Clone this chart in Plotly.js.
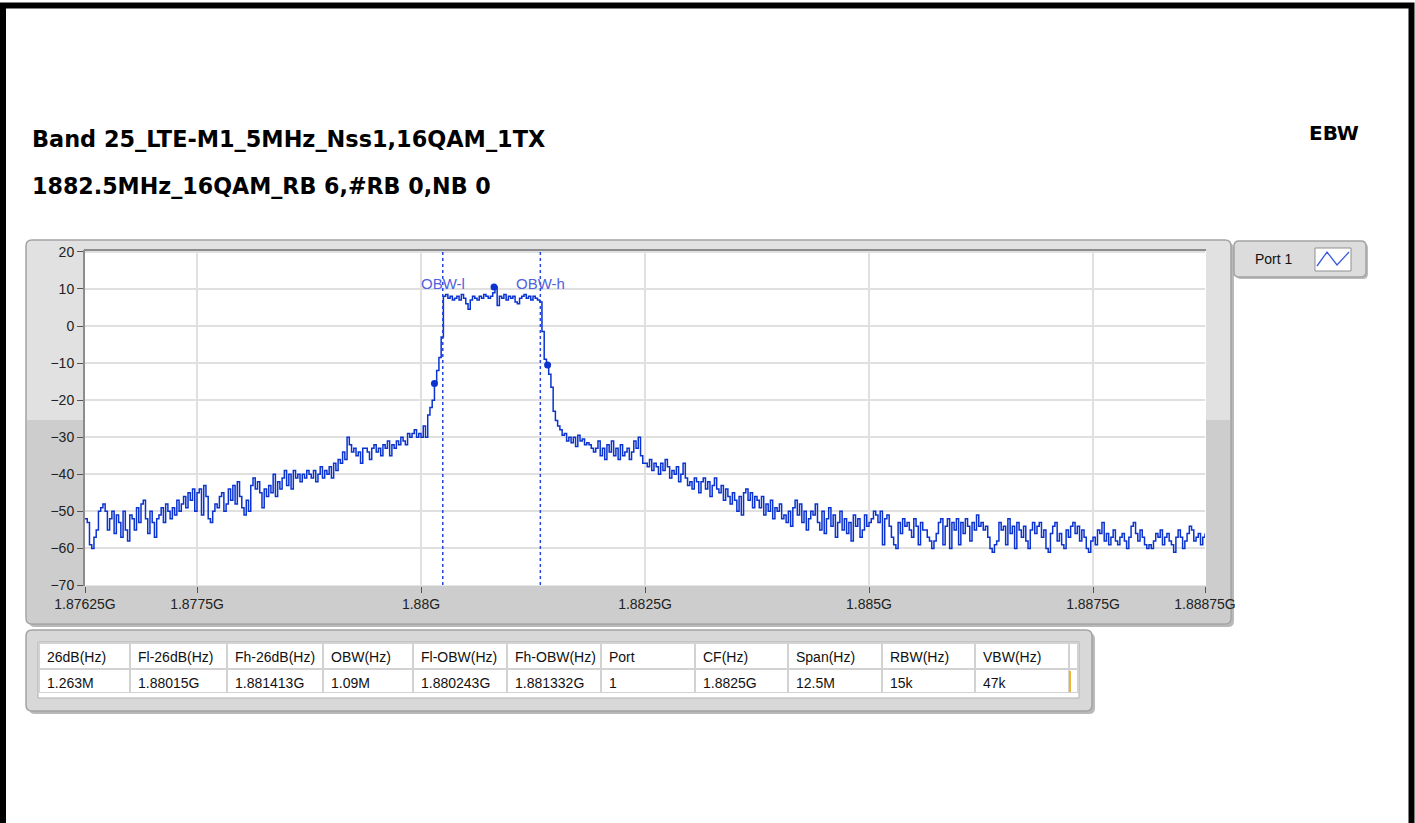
<!DOCTYPE html>
<html>
<head>
<meta charset="utf-8">
<script src="https://cdn.plot.ly/plotly-3.0.1.min.js"></script>
<style>
html,body{margin:0;padding:0;background:#ffffff;}
#chart{width:1415px;height:823px;}
</style>
</head>
<body>
<div id="chart"></div>
<script>
// ---------------- DATA ----------------
const titleLine1 = "Band 25_LTE-M1_5MHz_Nss1,16QAM_1TX";
const titleLine2 = "1882.5MHz_16QAM_RB 6,#RB 0,NB 0";
const panelLabel = "EBW";
const traceName = "Port 1";

// sweep: 1.87625 GHz .. 1.88875 GHz, 501 points (25 kHz step)
const startFreqGHz = 1.87625;
const stepFreqGHz = 0.000025;

// levels in dB
const lowerSkirt = [
 -52,-53,-59,-60,-57,-55,-50,-49,-48,-50,-55,-52,-50,-56,-51,-53,-57,-50,-55,-58,-51,-52,-55,-49,-53,
 -48,-47,-52,-56,-50,-53,-57,-52,-51,-49,-53,-48,-50,-52,-49,-51,-47,-50,-48,-46,-49,-45,-47,-44,-50,
 -45,-44,-51,-43,-46,-52,-53,-50,-48,-49,-46,-45,-50,-48,-44,-47,-43,-48,-42,-46,-49,-51,-47,-50,-43,
 -41,-44,-42,-45,-49,-44,-46,-43,-45,-40,-46,-42,-44,-41,-39,-43,-40,-44,-39,-41,-40,-42,-40,-41,-39,
 -40,-41,-39,-42,-40,-38,-41,-39,-40,-38,-41,-37,-39,-36,-37,-34,-36,-30,-32,-34,-33,-35,-34,-37,-33,
 -33,-34,-36,-33,-32,-34,-33,-35,-32,-33,-31,-35,-32,-33,-31,-32,-30,-31,-32,-29,-30,-29,-28,-30,-29
];
const lowerEdge = [-30,-27,-30,-24,-22,-20,-15.5,-12,-8.5,-3];
const inBand = [
 8,8.5,7.5,8,7,7.5,8,7,8.5,7.5,6,4.5,7,8,7.5,7,8,7.5,8.5,8,7.5,8,9,10.5,5.5,8,7.5,8.5,7,8,
 7.5,8,6.5,6,7.5,8,8.5,7.5,8,7,8,7.5,7,6.5
];
const upperEdge = [-1.5,-9,-10,-13,-16.5,-23,-25.5,-27,-28,-29.5,-29,-31,-30,-31.5,-30,-32.5,-29.5,-31,-30.5,-32,-31.5];
const upperSkirt = [
 -32,-33,-34,-33,-31,-35,-33,-36,-32,-34,-31,-35,-33,-36,-32,-35,-34,-33,-36,-34,-31,-33,-30,-35,-37,
 -37,-38,-36,-39,-37,-38,-40,-37,-39,-36,-38,-41,-39,-40,-38,-42,-40,-37,-41,-43,-42,-44,-41,-42,-45,
 -42,-41,-44,-42,-46,-43,-41,-44,-45,-43,-47,-44,-46,-48,-45,-47,-50,-46,-51,-45,-44,-47,-45,-49,-46,
 -47,-49,-46,-51,-48,-50,-47,-52,-49,-50,-48,-52,-51,-53,-50,-54,-49,-47,-51,-48,-53,-50,-55,-52,-50,
 -51,-48,-53,-55,-50,-56,-52,-49,-54,-51,-57,-53,-50,-55,-52,-56,-53,-58,-51,-54,-52,-57,-55,-51,-54,
 -53,-52,-50,-51,-53,-50,-59,-52,-51,-54,-57,-59,-60,-53,-56,-52,-54,-53,-55,-57,-52,-54,-59,-53,-55,
 -55,-57,-58,-60,-58,-56,-53,-52,-59,-54,-52,-60,-53,-55,-52,-59,-53,-56,-52,-54,-58,-53,-55,-51,-54,
 -53,-55,-54,-57,-60,-61,-59,-58,-53,-55,-54,-59,-52,-56,-54,-60,-53,-55,-57,-54,-58,-60,-55,-53,-56,
 -54,-53,-57,-55,-60,-61,-56,-54,-53,-58,-56,-59,-60,-55,-57,-54,-53,-56,-54,-58,-55,-57,-60,-61,-58,
 -57,-59,-55,-56,-53,-58,-56,-59,-57,-55,-58,-59,-57,-56,-58,-60,-57,-54,-53,-56,-58,-55,-57,-59,-60,
 -59,-60,-58,-56,-57,-55,-59,-57,-56,-58,-59,-61,-57,-55,-57,-60,-58,-56,-54,-55,-58,-57,-56,-59,-57,-56
];

// measurement markers (Fl-26dB, peak, Fh-26dB)
const markerFreqs = [1.88015, 1.880815, 1.881413];
const markerLevels = [-15.5, 10.5, -10.5];
// OBW cursor lines
const obwFreqs = [1.880243, 1.881332];
const obwLabels = ["OBW-l", "OBW-h"];

const xTickVals = [1.87625, 1.8775, 1.88, 1.8825, 1.885, 1.8875, 1.88875];
const xTickText = ["1.87625G", "1.8775G", "1.88G", "1.8825G", "1.885G", "1.8875G", "1.88875G"];
const yTickVals = [-70, -60, -50, -40, -30, -20, -10, 0, 10, 20];

const tableHeaders = ["26dB(Hz)", "Fl-26dB(Hz)", "Fh-26dB(Hz)", "OBW(Hz)", "Fl-OBW(Hz)", "Fh-OBW(Hz)", "Port", "CF(Hz)", "Span(Hz)", "RBW(Hz)", "VBW(Hz)", ""];
const tableValues = ["1.263M", "1.88015G", "1.881413G", "1.09M", "1.880243G", "1.881332G", "1", "1.8825G", "12.5M", "15k", "47k", ""];

// ---------------- BUILD ----------------
const W = 1415, H = 823;
const px = x => x / W;
const py = y => 1 - y / H;

const levels = lowerSkirt.concat(lowerEdge, inBand, upperEdge, upperSkirt);
const freqs = levels.map((_, i) => startFreqGHz + i * stepFreqGHz);

function rr(x0, y0, x1, y1, r) {
  const P = (x, y) => px(x).toFixed(6) + "," + py(y).toFixed(6);
  return "M" + P(x0 + r, y0) + " L" + P(x1 - r, y0) + " Q" + P(x1, y0) + " " + P(x1, y0 + r) +
    " L" + P(x1, y1 - r) + " Q" + P(x1, y1) + " " + P(x1 - r, y1) +
    " L" + P(x0 + r, y1) + " Q" + P(x0, y1) + " " + P(x0, y1 - r) +
    " L" + P(x0, y0 + r) + " Q" + P(x0, y0) + " " + P(x0 + r, y0) + " Z";
}
function bottomRounded(x0, y0, x1, y1, r) {
  const P = (x, y) => px(x).toFixed(6) + "," + py(y).toFixed(6);
  return "M" + P(x0, y0) + " L" + P(x1, y0) + " L" + P(x1, y1 - r) + " Q" + P(x1, y1) + " " + P(x1 - r, y1) +
    " L" + P(x0 + r, y1) + " Q" + P(x0, y1) + " " + P(x0, y1 - r) + " Z";
}
function poly(pts) {
  return pts.map((p, i) => (i ? "L" : "M") + px(p[0]).toFixed(6) + "," + py(p[1]).toFixed(6)).join(" ");
}

const uiFont = "Liberation Sans, Arial, sans-serif";
const boldFont = "DejaVu Sans, Open Sans, sans-serif";

const shapes = [
  // graph panel
  {type: "path", xref: "paper", yref: "paper", layer: "below", path: rr(29, 243, 1234, 627, 6), fillcolor: "#b9b9b9", line: {width: 0}},
  {type: "path", xref: "paper", yref: "paper", layer: "below", path: rr(26, 240, 1231, 624, 6), fillcolor: "#e1e1e1", line: {width: 0}},
  {type: "path", xref: "paper", yref: "paper", layer: "below", path: bottomRounded(27, 420, 1230, 623, 5), fillcolor: "#cdcdcd", line: {width: 0}},
  {type: "path", xref: "paper", yref: "paper", layer: "below", path: rr(26, 240, 1231, 624, 6), fillcolor: "rgba(0,0,0,0)", line: {color: "#a3a3a3", width: 1.5}},
  // plot area background
  {type: "rect", xref: "paper", yref: "paper", layer: "below", x0: px(85), x1: px(1206), y0: py(585.5), y1: py(250), fillcolor: "#ffffff", line: {width: 0}},
  // legend box
  {type: "path", xref: "paper", yref: "paper", layer: "below", path: rr(1236, 243, 1368, 279, 5), fillcolor: "#bdbdbd", line: {width: 0}},
  {type: "path", xref: "paper", yref: "paper", layer: "below", path: rr(1234, 241, 1366, 277, 5), fillcolor: "#dcdcdc", line: {color: "#a3a3a3", width: 1.5}},
  {type: "rect", xref: "paper", yref: "paper", layer: "below", x0: px(1315), x1: px(1351), y0: py(271), y1: py(248), fillcolor: "#ffffff", line: {color: "#8f8f8f", width: 1}},
  {type: "path", xref: "paper", yref: "paper", layer: "above", path: poly([[1317, 266], [1327, 252], [1337, 265], [1349, 252]]), line: {color: "#3a5be0", width: 1.3}},
  // table panel
  {type: "path", xref: "paper", yref: "paper", layer: "below", path: rr(29, 633, 1095, 714, 6), fillcolor: "#b9b9b9", line: {width: 0}},
  {type: "path", xref: "paper", yref: "paper", layer: "below", path: rr(26, 630, 1092, 711, 6), fillcolor: "#d8d8d8", line: {color: "#a3a3a3", width: 1.5}},
  {type: "rect", xref: "paper", yref: "paper", layer: "below", x0: px(38), x1: px(1079), y0: py(698), y1: py(642), fillcolor: "#ffffff", line: {color: "#b0b0b0", width: 1}},
  {type: "line", xref: "paper", yref: "paper", layer: "above", x0: px(1070), x1: px(1070), y0: py(692), y1: py(671), line: {color: "#f2b233", width: 2}},
  // plot top border
  {type: "line", xref: "paper", yref: "paper", layer: "above", x0: px(84), x1: px(1206), y0: py(250), y1: py(250), line: {color: "#8c8c8c", width: 2}},
  // outer black frame
  {type: "rect", xref: "paper", yref: "paper", layer: "above", x0: px(3), x1: px(1411.5), y0: -0.02, y1: py(5.5), fillcolor: "rgba(0,0,0,0)", line: {color: "#000000", width: 6}}
];
obwFreqs.forEach(f => shapes.push({
  type: "line", xref: "x", yref: "paper", layer: "above", x0: f, x1: f, y0: py(585), y1: py(251),
  line: {color: "#2346e6", width: 1.5, dash: "dot"}
}));

const annotations = [
  {xref: "paper", yref: "paper", x: px(30), y: py(139), xanchor: "left", yanchor: "middle", showarrow: false,
   text: "<b>" + titleLine1 + "</b>", font: {family: boldFont, size: 22.4, color: "#000"}},
  {xref: "paper", yref: "paper", x: px(30), y: py(186), xanchor: "left", yanchor: "middle", showarrow: false,
   text: "<b>" + titleLine2 + "</b>", font: {family: boldFont, size: 22.2, color: "#000"}},
  {xref: "paper", yref: "paper", x: px(1307), y: py(133), xanchor: "left", yanchor: "middle", showarrow: false,
   text: "<b>" + panelLabel + "</b>", font: {family: boldFont, size: 20, color: "#000"}},
  {xref: "paper", yref: "paper", x: px(1253), y: py(259), xanchor: "left", yanchor: "middle", showarrow: false,
   text: traceName, font: {family: uiFont, size: 14, color: "#111"}}
];
obwFreqs.forEach((f, i) => annotations.push({
  xref: "x", yref: "paper", x: f, y: py(283), xanchor: "center", yanchor: "middle", showarrow: false,
  text: obwLabels[i], font: {family: uiFont, size: 15, color: "#4f62e0"}
}));

const traces = [
  {type: "scatter", mode: "lines", x: freqs, y: levels, name: traceName,
   line: {color: "#0a33cf", width: 1.5, shape: "hv"}, hoverinfo: "skip", showlegend: false},
  {type: "scatter", mode: "markers", x: markerFreqs, y: markerLevels,
   marker: {color: "#0a33cf", size: 7}, hoverinfo: "skip", showlegend: false},
  {type: "table",
   domain: {x: [px(39), px(1078)], y: [py(694), py(643)]},
   columnwidth: [91, 97, 96, 90, 94, 94, 94, 93, 94, 93, 94, 9],
   header: {values: tableHeaders, align: "left", height: 26,
            fill: {color: "#ffffff"}, line: {color: "#d2d2d2", width: 2},
            font: {family: uiFont, size: 14, color: "#111"}},
   cells: {values: tableValues.map(v => [v]), align: "left", height: 24,
           fill: {color: "#ffffff"}, line: {color: "#d2d2d2", width: 2},
           font: {family: uiFont, size: 14, color: "#111"}}
  }
];

const layout = {
  width: W, height: H,
  margin: {l: 0, r: 0, t: 0, b: 0, pad: 0},
  paper_bgcolor: "#ffffff", plot_bgcolor: "#ffffff",
  showlegend: false,
  xaxis: {
    domain: [px(85), px(1205)], range: [1.87625, 1.88875],
    tickvals: xTickVals, ticktext: xTickText,
    ticks: "outside", ticklen: 6, tickwidth: 1, tickcolor: "#555",
    showgrid: true, gridcolor: "#e0e0e0", gridwidth: 2,
    zeroline: false, showline: false,
    tickfont: {family: uiFont, size: 14, color: "#222"}
  },
  yaxis: {
    domain: [py(585.5), py(250)], range: [-70, 20.5],
    tickvals: yTickVals,
    ticks: "outside", ticklen: 6, tickwidth: 1, tickcolor: "#555",
    showgrid: true, gridcolor: "#e0e0e0", gridwidth: 2,
    zeroline: false, showline: true, linecolor: "#8c8c8c", linewidth: 2,
    tickfont: {family: uiFont, size: 14, color: "#222"}
  },
  shapes: shapes,
  annotations: annotations
};

Plotly.newPlot("chart", traces, layout, {displayModeBar: false, staticPlot: true});
</script>
</body>
</html>
